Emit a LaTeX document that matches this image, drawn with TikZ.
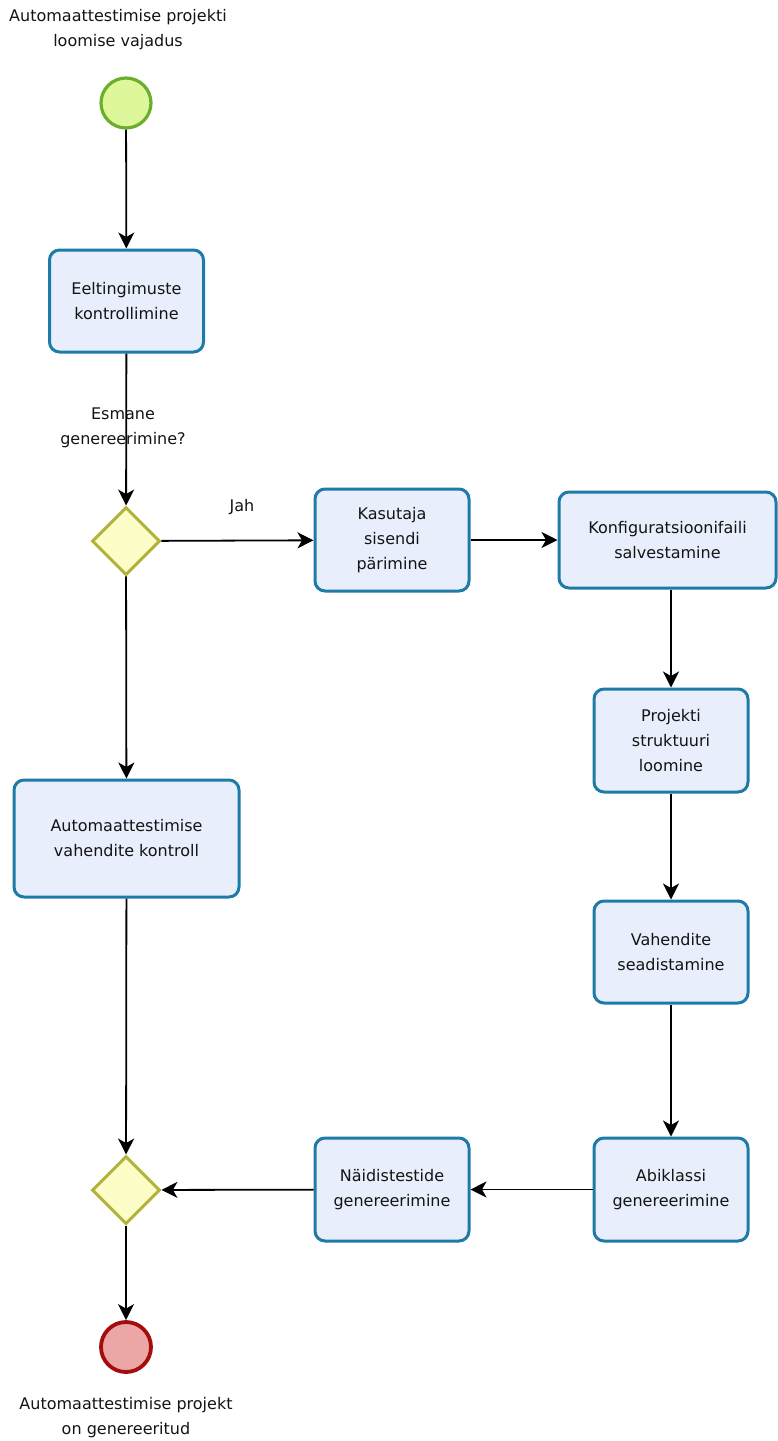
\documentclass[tikz,border=0pt]{standalone}
\usepackage{fontspec}
\setmainfont{DejaVu Sans}
\usetikzlibrary{shapes.geometric,arrows.meta}
\definecolor{taskline}{HTML}{1E7BA8}
\definecolor{taskfill}{HTML}{E9EEFC}
\definecolor{startline}{HTML}{6BAE2C}
\definecolor{startfill}{HTML}{DEF79A}
\definecolor{gateline}{HTML}{B2B23C}
\definecolor{gatefill}{HTML}{FDFDC8}
\definecolor{endline}{HTML}{A30D0D}
\definecolor{endfill}{HTML}{ECA6A6}
\tikzset{
  x=1pt, y=-1pt,
  every node/.style={font=\fontsize{16}{25}\selectfont, text=black!92},
  task/.style={draw=taskline, fill=taskfill, line width=3pt, rounded corners=10pt,
    align=center, inner sep=0pt, minimum width=#1},
  task/.default=154,
  gate/.style={diamond, draw=gateline, fill=gatefill, line width=3pt,
    minimum width=68, minimum height=68, inner sep=0pt},
  startev/.style={circle, draw=startline, fill=startfill, line width=3.2pt,
    minimum size=50, inner sep=0pt},
  endev/.style={circle, draw=endline, fill=endfill, line width=3.8pt,
    minimum size=50, inner sep=0pt},
  lbl/.style={align=center, inner sep=0pt},
  flow/.style={line width=1.8pt, draw=black, -{Stealth[length=16pt,width=16pt,inset=4.5pt]}},
}
\begin{document}
\begin{tikzpicture}
\useasboundingbox (0,0) rectangle (778,1441);

% events and gateways
\node[startev] (start) at (126,103) {};
\node[endev] (finish) at (126,1347) {};
\node[gate] (g1) at (126,541) {};
\node[gate] (g2) at (126,1190) {};

% tasks
\node[task, minimum height=102] (eel) at (126.5,301) {Eeltingimuste\\kontrollimine};
\node[task, minimum height=102] (kas) at (392,540) {Kasutaja\\sisendi\\pärimine};
\node[task=217, minimum height=96] (konf) at (667.5,540) {Konfiguratsioonifaili\\salvestamine};
\node[task, minimum height=103] (proj) at (671,740.5) {Projekti\\struktuuri\\loomine};
\node[task, minimum height=102] (vah) at (671,952) {Vahendite\\seadistamine};
\node[task, minimum height=103] (abi) at (671,1189.5) {Abiklassi\\genereerimine};
\node[task, minimum height=103] (naid) at (392,1189.5) {Näidistestide\\genereerimine};
\node[task=225, minimum height=117] (ctrl) at (126.5,838.5) {Automaattestimise\\vahendite kontroll};

% labels
\node[lbl] (startlbl) at (118,30) {Automaattestimise projekti\\loomise vajadus};
\node[lbl] (q) at (123,428) {Esmane\\genereerimine?};
\node[lbl] (yes) at (242,507) {Jah};
\node[lbl] (endlbl) at (126,1418) {Automaattestimise projekt\\on genereeritud};

% sequence flows
\draw[flow] (start) -- (eel);
\draw[flow] (eel) -- (g1);
\draw[flow] (g1) -- (kas);
\draw[flow] (kas) -- (konf);
\draw[flow] (konf.south -| proj.north) -- (proj);
\draw[flow] (proj) -- (vah);
\draw[flow] (vah) -- (abi);
\draw[flow] (abi) -- (naid);
\draw[flow] (naid) -- (g2);
\draw[flow] (g1) -- (ctrl);
\draw[flow] (ctrl) -- (g2);
\draw[flow] (g2) -- (finish);
\end{tikzpicture}
\end{document}
